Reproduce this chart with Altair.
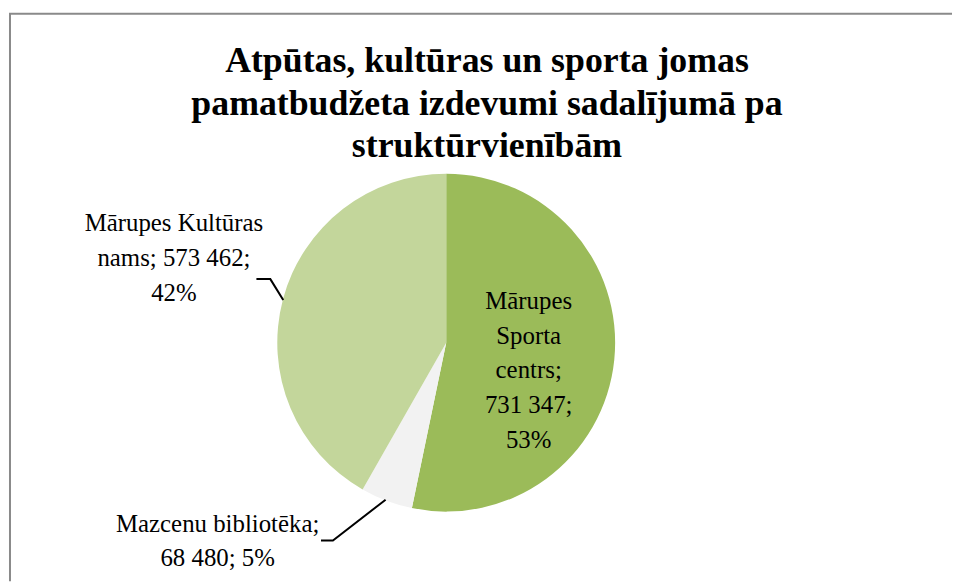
import altair as alt
import pandas as pd

# ---- data ----
units = ["Mārupes Sporta centrs", "Mazcenu bibliotēka", "Mārupes Kultūras nams"]
amounts = [731347, 68480, 573462]
colors = ["#9BBB59", "#F2F2F2", "#C3D69B"]
title_lines = ["Atpūtas, kultūras un sporta jomas",
               "pamatbudžeta izdevumi sadalījumā pa",
               "struktūrvienībām"]

# ---- layout (chart pixel coordinates) ----
W, H = 950, 575
CX, CY, R = 441, 335, 170
label_x = [524, 211, 167]
label_y = [293, 517, 215]
label_breaks = [["Mārupes", "Sporta", "centrs;"], ["Mazcenu bibliotēka;"], ["Mārupes Kultūras", "nams;"]]
title_x = 482
title_y = [52, 95, 137]

total = sum(amounts)
def fmt(n):
    return f"{n:,}".replace(",", " ")

pct = [round(a / total * 100) for a in amounts]
label_text = []
for i in range(3):
    if i == 0:
        label_text.append("\n".join(label_breaks[i] + [fmt(amounts[i]) + ";", f"{pct[i]}%"]))
    elif i == 1:
        label_text.append("\n".join(label_breaks[i] + [f"{fmt(amounts[i])}; {pct[i]}%"]))
    else:
        label_text.append("\n".join([label_breaks[i][0], f"{label_breaks[i][1]} {fmt(amounts[i])};", f"{pct[i]}%"]))

pie_df = pd.DataFrame({"unit": units, "amount": amounts, "order": [0, 1, 2]})
lab_df = pd.DataFrame({"x": label_x, "y": label_y, "text": label_text})
title_df = pd.DataFrame({"x": [title_x] * 3, "y": title_y, "text": title_lines})

# leader lines (chart coordinates)
lead_df = pd.DataFrame({
    "x": [250, 264, 277, 315, 327, 380],
    "y": [271, 271, 292, 534, 534, 493],
    "g": ["a", "a", "a", "b", "b", "b"],
    "o": [0, 1, 2, 0, 1, 2],
})
border_df = pd.DataFrame({"x": [2, 2, W], "y": [H, 4, 4], "o": [0, 1, 2]})

xs = alt.Scale(domain=[0, W], range=[0, W])
ys = alt.Scale(domain=[0, H], range=[0, H])
FONT = "Liberation Serif"

pie = alt.Chart(pie_df).mark_arc(outerRadius=R, stroke=None).encode(
    theta=alt.Theta("amount:Q", stack=True),
    order=alt.Order("order:Q"),
    color=alt.Color("unit:N", scale=alt.Scale(domain=units, range=colors), legend=None),
    x=alt.value(CX),
    y=alt.value(CY),
)

labels = alt.Chart(lab_df).mark_text(
    font=FONT, fontSize=25, lineBreak="\n", lineHeight=35,
    align="center", baseline="middle", color="#000000"
).encode(
    x=alt.X("x:Q", scale=xs, axis=None),
    y=alt.Y("y:Q", scale=ys, axis=None),
    text="text:N",
)

title = alt.Chart(title_df).mark_text(
    font=FONT, fontSize=36, fontWeight="bold", align="center", baseline="middle", color="#000000"
).encode(
    x=alt.X("x:Q", scale=xs, axis=None),
    y=alt.Y("y:Q", scale=ys, axis=None),
    text="text:N",
)

leaders = alt.Chart(lead_df).mark_line(color="#000000", strokeWidth=2).encode(
    x=alt.X("x:Q", scale=xs, axis=None),
    y=alt.Y("y:Q", scale=ys, axis=None),
    detail="g:N",
    order="o:Q",
)

border = alt.Chart(border_df).mark_line(color="#8a8a8a", strokeWidth=2).encode(
    x=alt.X("x:Q", scale=xs, axis=None),
    y=alt.Y("y:Q", scale=ys, axis=None),
    order="o:Q",
)

chart = alt.layer(border, pie, leaders, labels, title).properties(
    width=W, height=H, padding=0, autosize=alt.AutoSizeParams(type="none"),
    background="white",
).configure_view(stroke=None)

chart.save("out.html", embed_options={"renderer": "svg", "actions": False})
